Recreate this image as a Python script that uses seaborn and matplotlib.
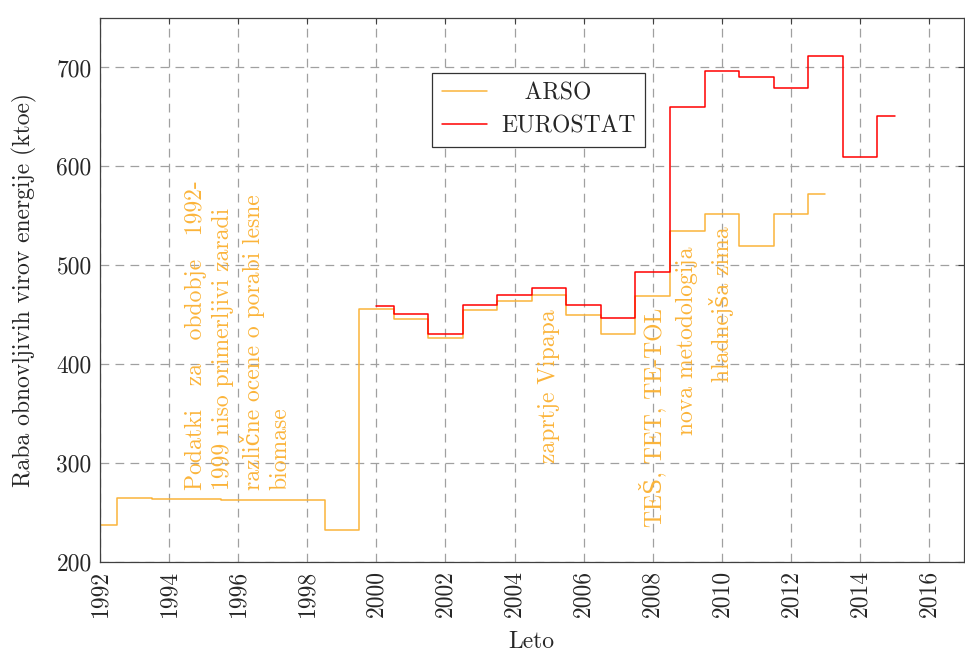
"""
Raba obnovljivih virov energije: ARSO vs EUROSTAT (step chart).
"""
import pandas as pd
import matplotlib.pyplot as plt
import seaborn as sns

YEARS_ARSO = list(range(1992, 2014))
ARSO = [237, 265, 264, 264, 263, 263, 263, 232, 456, 446, 426, 455,
        464, 470, 450, 431, 469, 535, 552, 519, 552, 572]

YEARS_EUROSTAT = list(range(2000, 2016))
EUROSTAT = [459, 451, 431, 460, 470, 477, 460, 447, 493, 660,
            696, 690, 679, 712, 609, 651]

X_TICKS = list(range(1992, 2017, 2))
Y_TICKS = [200, 300, 400, 500, 600, 700]

ORANGE = "#fbb43a"
RED = "#ff0000"
FONT = ["cmr10", "DejaVu Serif"]


def main():
    sns.set_theme(style="whitegrid")
    plt.rcParams["font.family"] = FONT
    plt.rcParams["axes.formatter.use_mathtext"] = True

    df = pd.concat([
        pd.DataFrame({"leto": YEARS_ARSO, "ktoe": ARSO, "vir": "ARSO"}),
        pd.DataFrame({"leto": YEARS_EUROSTAT, "ktoe": EUROSTAT, "vir": "EUROSTAT"}),
    ])

    fig = plt.figure(figsize=(9.65, 6.55), dpi=100)
    ax = fig.add_axes([0.1036, 0.142, 0.895, 0.8305])

    sns.lineplot(data=df, x="leto", y="ktoe", hue="vir",
                 palette={"ARSO": ORANGE, "EUROSTAT": RED},
                 drawstyle="steps-mid", linewidth=1.1, ax=ax, legend=False)

    ax.set_xlim(1992, 2017)
    ax.set_ylim(200, 750)
    ax.set_xticks(X_TICKS)
    ax.set_xticklabels([str(y) for y in X_TICKS], rotation=90, fontsize=17)
    ax.set_yticks(Y_TICKS)
    ax.set_yticklabels([str(v) for v in Y_TICKS], fontsize=17)
    ax.tick_params(direction="in", length=4, width=0.8, color="#404040",
                   top=True, right=True, pad=6)

    ax.grid(True, color="#a0a0a0", linestyle=(0, (7, 5)), linewidth=0.9)
    for sp in ax.spines.values():
        sp.set_visible(True)
        sp.set_color("#404040")
        sp.set_linewidth(0.9)

    ax.set_xlabel("Leto", fontsize=17, labelpad=10)
    ax.set_ylabel("Raba obnovljivih virov energije (ktoe)", fontsize=17, labelpad=14)

    # annotations
    txt = dict(rotation=90, color=ORANGE, fontsize=17, va="bottom", ha="center")
    ax.text(1996.0, 273,
            "Podatki   za   obdobje   1992-\n1999 niso primerljivi zaradi\n"
            "različne ocene o porabi lesne\nbiomase",
            multialignment="left", linespacing=1.28, **txt)
    ax.text(2005.0, 300, "zaprtje Vipapa", **txt)
    ax.text(2008.0, 235, "TEŠ, TET, TE-TOL", **txt)
    ax.text(2009.0, 328, "nova metodologija", **txt)
    ax.text(2010.0, 382, "hladnejša zima", **txt)

    handles = [plt.Line2D([], [], color=ORANGE, lw=1.1),
               plt.Line2D([], [], color=RED, lw=1.1)]
    leg = ax.legend(handles, ["   ARSO", "EUROSTAT"], loc="upper left",
                    bbox_to_anchor=(0.385, 0.899), fontsize=17,
                    fancybox=False, framealpha=1, edgecolor="#333333",
                    handlelength=1.9, borderpad=0.4, labelspacing=0.45,
                    handletextpad=0.6, borderaxespad=0)
    leg.get_frame().set_linewidth(0.9)

    fig.savefig("out.png", dpi=100)
    plt.close(fig)


if __name__ == "__main__":
    main()
